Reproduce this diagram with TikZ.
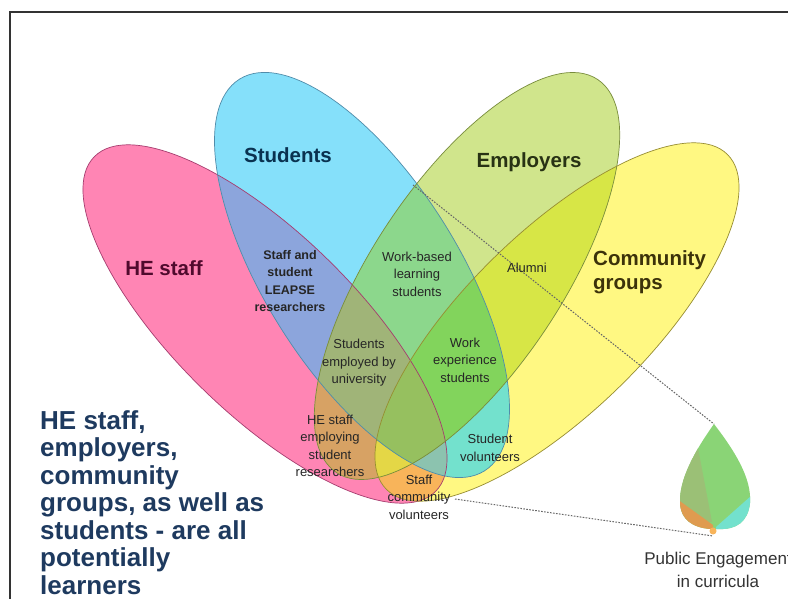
\documentclass[tikz,border=0pt]{standalone}
\usepackage{fontspec}
\setmainfont{Liberation Sans}
\definecolor{colP}{RGB}{255,133,180}
\definecolor{colS}{RGB}{133,224,250}
\definecolor{colE}{RGB}{208,229,140}
\definecolor{colC}{RGB}{255,248,130}
\definecolor{colPS}{RGB}{140,165,220}
\definecolor{colPE}{RGB}{215,162,100}
\definecolor{colPC}{RGB}{248,180,90}
\definecolor{colSE}{RGB}{140,215,140}
\definecolor{colSC}{RGB}{115,225,205}
\definecolor{colEC}{RGB}{215,230,70}
\definecolor{colPSE}{RGB}{160,180,120}
\definecolor{colPSC}{RGB}{140,195,175}
\definecolor{colPEC}{RGB}{228,215,70}
\definecolor{colSEC}{RGB}{130,212,92}
\definecolor{colPSEC}{RGB}{150,192,95}
\definecolor{lineP}{RGB}{165,60,110}
\definecolor{lineS}{RGB}{80,140,170}
\definecolor{lineE}{RGB}{120,140,60}
\definecolor{lineC}{RGB}{150,140,50}
\definecolor{leafG}{RGB}{138,212,118}
\definecolor{leafO}{RGB}{155,192,118}
\definecolor{inkBlue}{RGB}{30,58,95}
\definecolor{inkP}{RGB}{80,10,45}
\definecolor{inkS}{RGB}{10,50,80}
\definecolor{inkE}{RGB}{40,50,20}
\definecolor{inkC}{RGB}{60,50,10}
% the four sets
\newcommand\ellP[1]{\path[#1,rotate around={-44.4:(265,324)}] (265,324) ellipse (239 and 90);}
\newcommand\ellS[1]{\path[#1,rotate around={-58:(362,275)}] (362,275) ellipse (231 and 97);}
\newcommand\ellE[1]{\path[#1,rotate around={56.4:(467,276)}] (467,276) ellipse (236 and 95);}
\newcommand\ellC[1]{\path[#1,rotate around={44.4:(557,322)}] (557,322) ellipse (239 and 90);}
\newcommand\leafpath{(714,424) .. controls (734,450) and (752,478) .. (750,503) .. controls (748,522) and (736,530) .. (718,529) .. controls (700,530) and (681,524) .. (680,503) .. controls (679,480) and (694,452) .. (714,424) -- cycle}

\begin{document}
\begin{tikzpicture}[x=1pt, y=-1pt,
		biglbl/.style={font=\bfseries\fontsize{20.5}{24}\selectfont, inner sep=0pt, align=center},
		smalllbl/.style={font=\fontsize{13}{17.5}\selectfont, inner sep=0pt, align=center, text=black!85},
		ring/.style={draw=#1, line width=0.7pt},
		zoomline/.style={draw=black!60, dash pattern=on 1.6pt off 1.4pt, line width=1pt}]
		%%%%% page %%%%%
		\fill[white] (0,0) rectangle (788,599);
		\clip (0,0) rectangle (788,599);
		
		%%%%% single sets %%%%%
		\ellP{fill=colP}
		\ellS{fill=colS}
		\ellE{fill=colE}
		\ellC{fill=colC}
		
		%%%%% pairs %%%%%
		\begin{scope}\ellP{clip}\ellS{fill=colPS}\end{scope}
		\begin{scope}\ellP{clip}\ellE{fill=colPE}\end{scope}
		\begin{scope}\ellP{clip}\ellC{fill=colPC}\end{scope}
		\begin{scope}\ellS{clip}\ellE{fill=colSE}\end{scope}
		\begin{scope}\ellS{clip}\ellC{fill=colSC}\end{scope}
		\begin{scope}\ellE{clip}\ellC{fill=colEC}\end{scope}
		
		%%%%% triples and all four %%%%%
		\begin{scope}\ellP{clip}\ellS{clip}\ellE{fill=colPSE}\end{scope}
		\begin{scope}\ellP{clip}\ellS{clip}\ellC{fill=colPSC}\end{scope}
		\begin{scope}\ellP{clip}\ellE{clip}\ellC{fill=colPEC}\end{scope}
		\begin{scope}\ellS{clip}\ellE{clip}\ellC{fill=colSEC}\end{scope}
		\begin{scope}\ellP{clip}\ellS{clip}\ellE{clip}\ellC{fill=colPSEC}\end{scope}
		
		\ellP{ring=lineP}
		\ellS{ring=lineS}
		\ellE{ring=lineE}
		\ellC{ring=lineC}
		
		%%%%% zoomed leaf %%%%%
		\begin{scope}
			\clip \leafpath;
			\fill[leafG] (670,420) rectangle (760,540);
			\fill[leafO] (672,472) -- (698,448) -- (712,522) -- (672,522) -- cycle;
			\fill[colPE!80!orange] (670,494) -- (713,525) -- (713,540) -- (670,540) -- cycle;
			\fill[colSC] (760,488) -- (716,527) -- (716,540) -- (760,540) -- cycle;
		\end{scope}
		\fill[colPC] (713,531) circle (3.5);
		
		\coordinate (lensTop) at (413,185);
		\coordinate (lensBot) at (455,499);
		\coordinate (leafTop) at (714,424);
		\coordinate (leafBot) at (713,536);
		\draw[zoomline] (lensTop) -- (leafTop);
		\draw[zoomline] (lensBot) -- (leafBot);
		
		%%%%% labels %%%%%
		\node[biglbl, text=inkS] (students) at (288,155) {Students};
		\node[biglbl, text=inkE] (employers) at (529,162) {Employers};
		\node[biglbl, text=inkP] (hestaff) at (164,268) {HE staff};
		\node[biglbl, text=inkC, align=left, anchor=west] (community) at (593,272) {Community\\groups};
		
		\node[smalllbl, font=\bfseries\fontsize{12.5}{17.5}\selectfont] (leapse) at (290,281) {Staff and\\student\\LEAPSE\\researchers};
		\node[smalllbl] (workbased) at (417,274) {Work-based\\learning\\students};
		\node[smalllbl] (alumni) at (527,268) {Alumni};
		\node[smalllbl] (employed) at (359,363) {Students\\employed by\\university};
		\node[smalllbl] (workexp) at (465,360) {Work\\experience\\students};
		\node[smalllbl] (hestaffemp) at (330,446) {HE staff\\employing\\student\\researchers};
		\node[smalllbl] (studentvol) at (490,448) {Student\\volunteers};
		\node[smalllbl] (staffcomm) at (419,497) {Staff\\community\\volunteers};
		
		\node[font=\bfseries\fontsize{26}{27.5}\selectfont, text=inkBlue, align=left, anchor=north west, inner sep=0pt] (learners) at (40,410) {HE staff,\\employers,\\community\\groups, as well as\\students - are all\\potentially\\learners};
		\node[font=\fontsize{17}{23}\selectfont, text=black!80, align=center, inner sep=0pt] (publiceng) at (718,570) {Public Engagement\\in curricula};
		
		%%%%% frame %%%%%
		\draw[line width=1.2pt, black!80] (10,599) -- (10,12) -- (788,12);
\end{tikzpicture}
\end{document}
